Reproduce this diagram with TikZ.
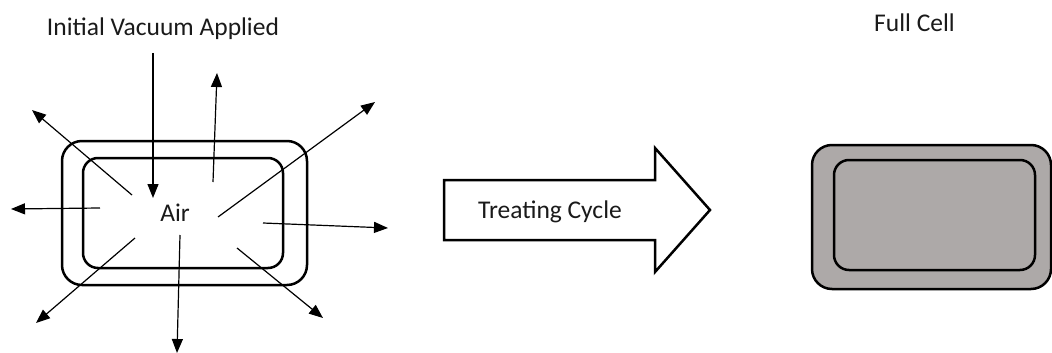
\documentclass[tikz,border=0pt]{standalone}
\usepackage{fontspec}
\setmainfont{Carlito}
\usetikzlibrary{arrows.meta}
\definecolor{cellgray}{HTML}{ADA9A8}
\definecolor{txt}{HTML}{1A1A1A}
\tikzset{
  lbl/.style={font=\fontsize{25.5}{28}\selectfont, text=txt, inner sep=0pt, anchor=base},
  cellbox/.style={draw=black, line width=2.5pt, rounded corners=#1, inner sep=0pt},
  ray/.style={line width=1.2pt, -{Triangle[length=14pt,width=11pt]}},
  bigarrow/.style={draw=black, line width=2.5pt, fill=white, line join=miter},
}
\begin{document}
\begin{tikzpicture}[x=1pt,y=-1pt]
\useasboundingbox (0,0) rectangle (1052,353);
% left cell
\node[cellbox=20pt, minimum width=245pt, minimum height=144pt] (outer) at (184.5,213) {};
\node[cellbox=15pt, minimum width=200pt, minimum height=110pt] (inner) at (183,213) {};
\node[lbl, anchor=center] (air) at (175,213) {Air};
\node[lbl] (vac) at (163,36) {Initial Vacuum Applied};
% ray coordinates
\coordinate (vs) at (153,53);  \coordinate (ve) at (153,198);
\coordinate (us) at (213,182); \coordinate (ue) at (217,73);
\coordinate (uls) at (132,195); \coordinate (ule) at (32,110);
\coordinate (ls) at (100,208); \coordinate (le) at (11,209);
\coordinate (urs) at (218,217); \coordinate (ure) at (375,102);
\coordinate (rs) at (263,223); \coordinate (re) at (388,228);
\coordinate (lls) at (135,238); \coordinate (lle) at (36,323);
\coordinate (ds) at (180,235); \coordinate (de) at (177,353);
\coordinate (lrs) at (237,248); \coordinate (lre) at (323,318);
\draw[ray] (vs) -- (ve);
\draw[ray] (us) -- (ue);
\draw[ray] (uls) -- (ule);
\draw[ray] (ls) -- (le);
\draw[ray] (urs) -- (ure);
\draw[ray] (rs) -- (re);
\draw[ray] (lls) -- (lle);
\draw[ray] (ds) -- (de);
\draw[ray] (lrs) -- (lre);
% block arrow
\draw[bigarrow] (444,180) -- (655,180) -- (655,148) -- (710,210) -- (655,272) -- (655,240) -- (444,240) -- cycle;
\node[lbl, anchor=center] (cycle) at (550,212) {Treating Cycle};
% full cell
\node[cellbox=20pt, fill=cellgray, minimum width=239pt, minimum height=144pt] (fouter) at (931.5,217) {};
\node[cellbox=15pt, minimum width=201pt, minimum height=110pt] (finner) at (934.5,215) {};
\node[lbl] (full) at (914.5,32) {Full Cell};
\end{tikzpicture}
\end{document}
